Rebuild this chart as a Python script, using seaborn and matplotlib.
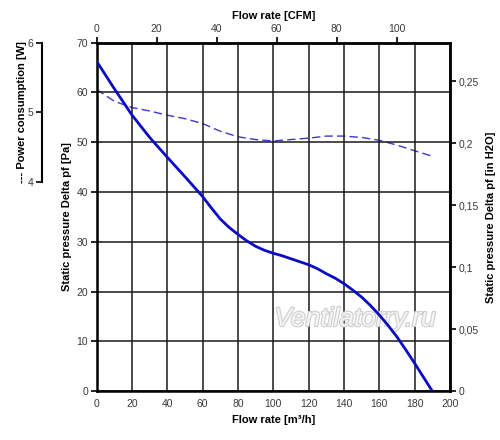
import numpy as np
import pandas as pd
import matplotlib
matplotlib.use("Agg")
import matplotlib.pyplot as plt
import matplotlib.patheffects as pe
import seaborn as sns
from matplotlib.ticker import FixedLocator, FuncFormatter

# ---- data ----
flow_pressure = [0, 10, 20, 30, 40, 50, 60, 65, 70, 75, 80, 85, 90, 95, 100, 105, 110, 115, 120, 125,
                 130, 135, 140, 145, 150, 155, 160, 165, 170, 175, 180, 185, 190]
pressure_pa = [66.3, 60.8, 55.5, 51.0, 47.0, 43.1, 39.1, 36.8, 34.6, 32.9, 31.5, 30.2, 29.1, 28.3, 27.7, 27.2,
               26.6, 26.0, 25.4, 24.6, 23.6, 22.7, 21.6, 20.3, 18.9, 17.2, 15.3, 13.2, 10.9, 8.3, 5.6, 2.8, 0.0]

flow_power = [0, 10, 20, 30, 40, 50, 60, 70, 80, 90, 100, 110, 120, 130, 140, 150, 160, 170, 180, 190]
power_w = [5.33, 5.16, 5.07, 5.02, 4.96, 4.91, 4.84, 4.73, 4.65, 4.61, 4.59, 4.61, 4.63, 4.66, 4.66, 4.64, 4.60, 4.53, 4.45, 4.37]

x_ticks = [0, 20, 40, 60, 80, 100, 120, 140, 160, 180, 200]
y_ticks = [0, 10, 20, 30, 40, 50, 60, 70]
cfm_ticks = [0, 20, 40, 60, 80, 100]
inh2o_ticks = [0, 0.05, 0.1, 0.15, 0.2, 0.25]
power_ticks = [4, 5, 6]

CFM_TO_M3H = 1.69901
PA_PER_INH2O = 249.089

sns.set_style("white")
plt.rcParams["font.family"] = ["Liberation Sans", "DejaVu Sans"]

df_p = pd.DataFrame({"flow": flow_pressure, "pa": pressure_pa})
df_w = pd.DataFrame({"flow": flow_power, "w": power_w})

fig = plt.figure(figsize=(5, 4.4), dpi=100)
ax = fig.add_axes([0.193, 0.111, 0.707, 0.792])

tick_color = "#3a3a3a"
lab_kw = dict(fontsize=8, fontweight="bold", color="black")

# power axis (twin)
axp = ax.twinx()
sns.lineplot(data=df_w, x="flow", y="w", ax=axp, color="#3a3ad0", lw=1.0,
             linestyle=(0, (6, 3)))
axp.set_ylim(1, 6)
for s in ["top", "right", "bottom"]:
    axp.spines[s].set_visible(False)
axp.spines["left"].set_visible(True)
axp.spines["left"].set_position(("axes", -0.154))
axp.spines["left"].set_bounds(4, 6)
axp.spines["left"].set_linewidth(1.5)
axp.spines["left"].set_color("black")
axp.yaxis.set_ticks_position("left")
axp.yaxis.set_label_position("left")
axp.set_yticks(power_ticks)
axp.tick_params(axis="y", direction="out", length=4, width=1.2, labelsize=7.5,
                labelcolor=tick_color, color="black", pad=2)
axp.set_ylabel("--- Power consumption [W]", **lab_kw)
axp.yaxis.set_label_coords(-0.198, 0.80)

# main pressure curve
sns.lineplot(data=df_p, x="flow", y="pa", ax=ax, color="#0b0bc4", lw=2.0, zorder=5)
ax.set_zorder(axp.get_zorder() + 1)
ax.patch.set_visible(False)
ax.set_xlim(0, 200)
ax.set_ylim(0, 70)
ax.set_xticks(x_ticks)
ax.set_yticks(y_ticks)
ax.grid(True, color="#1a1a1a", lw=1.1)
for s in ax.spines.values():
    s.set_linewidth(1.8)
    s.set_color("black")
ax.tick_params(direction="out", length=4, width=1.2, labelsize=7.5,
               labelcolor=tick_color, color="black", pad=2)
ax.set_xlabel("Flow rate [m³/h]", labelpad=4, **lab_kw)
ax.set_ylabel("Static pressure Delta pf [Pa]", labelpad=3, **lab_kw)

# secondary axes
top = ax.secondary_xaxis("top", functions=(lambda x: x / CFM_TO_M3H, lambda x: x * CFM_TO_M3H))
top.xaxis.set_major_locator(FixedLocator(cfm_ticks))
top.tick_params(direction="out", length=4, width=1.2, labelsize=7.5,
                labelcolor=tick_color, color="black", pad=2)
top.set_xlabel("Flow rate [CFM]", labelpad=4, **lab_kw)
top.spines["top"].set_linewidth(1.8)

right = ax.secondary_yaxis("right", functions=(lambda y: y / PA_PER_INH2O, lambda y: y * PA_PER_INH2O))
right.yaxis.set_major_locator(FixedLocator(inh2o_ticks))
right.yaxis.set_major_formatter(FuncFormatter(lambda v, p: ("%g" % round(v, 3)).replace(".", ",")))
right.tick_params(direction="out", length=4, width=1.2, labelsize=7.5,
                  labelcolor=tick_color, color="black", pad=2)
right.set_ylabel("Static pressure Delta pf [in H2O]", labelpad=5, **lab_kw)
right.spines["right"].set_linewidth(1.8)

ax.text(0.731, 0.207, "Ventilatorry.ru", transform=ax.transAxes, fontsize=19,
        fontstyle="italic", color="#f4f4f4", ha="center", va="center", zorder=1,
        family=["Liberation Sans", "DejaVu Sans"],
        path_effects=[pe.withStroke(linewidth=1.6, foreground="#cfcfcf")])

fig.savefig("out.png", dpi=100)
